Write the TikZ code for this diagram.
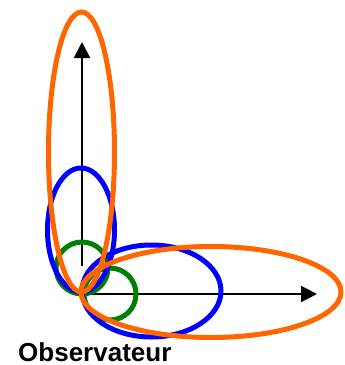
\documentclass[tikz,border=0pt]{standalone}
\usepackage{fontspec}
\setmainfont{Liberation Sans}
\usetikzlibrary{arrows.meta}
\definecolor{orangeobs}{HTML}{FF6600}
\definecolor{greenobs}{HTML}{008000}
\begin{document}
\begin{tikzpicture}[x=1pt, y=-1pt,
    axis/.style={line width=2pt, -{Triangle[length=16pt, width=16pt]}},
    halo/.style={line width=5pt}]
    \useasboundingbox (0,0) rectangle (345,365);

    % Axes seen from the observer
    \coordinate (O) at (82,294);
    \coordinate (ybase) at (82,266);
    \coordinate (xtip) at (317,294);
    \coordinate (ytip) at (82,42);
    \draw[axis] (O) -- (xtip);
    \draw[axis] (ybase) -- (ytip);

    % Ellipses: vertical one then horizontal one, small to large
    \foreach \col/\cx/\cy/\rx/\ry in {
        greenobs/82/268/26/26,
        greenobs/110/294/26/26,
        blue/81/230/33.5/62,
        blue/151.5/291/69.5/46,
        orangeobs/81.5/152/33/140,
        orangeobs/211/292/130/45.5
    } {
        \draw[halo, \col] (\cx,\cy) ellipse [x radius=\rx, y radius=\ry];
    }

    \node[anchor=base west, inner sep=0, font=\bfseries\fontsize{26}{30}\selectfont] (obs) at (18,361) {Observateur};
\end{tikzpicture}
\end{document}
